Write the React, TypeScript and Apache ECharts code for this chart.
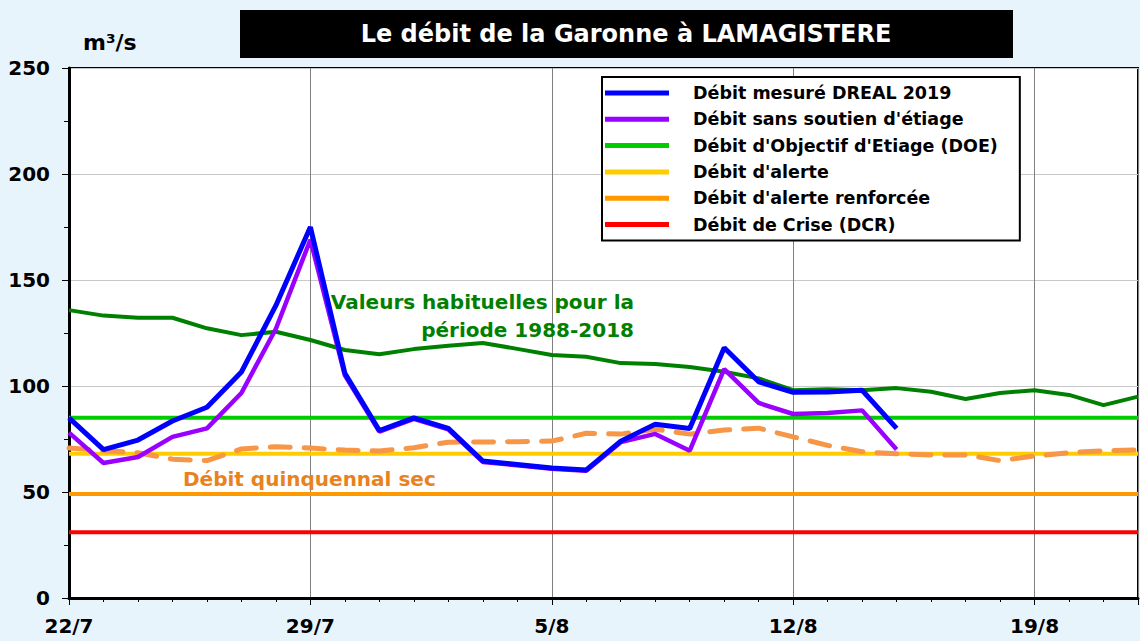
import React, { useEffect, useRef } from "react";
import * as echarts from "echarts";

// Days since 22/7 (0..31)
const xTickLabels = ["22/7", "29/7", "5/8", "12/8", "19/8"];
const yTicks = [0, 50, 100, 150, 200, 250];

const debitMesure = [85, 70, 74.5, 83.5, 90, 106.6, 138, 175, 106, 79, 85, 80, 64.6, 63, 61.3, 60.4, 74, 82, 80, 118, 102, 97, 97.2, 98, 80];
const sansSoutien = [78, 63.7, 66.5, 76, 80, 96.7, 127, 169, 105, 78.5, 84.5, 79.5, 64.2, 62.6, 61, 60, 73.5, 77.4, 69.5, 108, 92, 86.8, 87.3, 88.5, 70];
const habituelles = [135.8, 133.2, 132.2, 132.2, 127.2, 124, 125.6, 121.7, 117, 115, 117.4, 119, 120.3, 117.5, 114.6, 113.8, 110.8, 110.4, 109, 106.7, 103.6, 98, 98.5, 98, 99, 97.3, 93.9, 96.7, 98, 95.8, 91, 95];
const quinquennal = [70.7, 69.5, 68.5, 65.5, 64.8, 70.3, 71.4, 70.7, 69.8, 69.3, 70.9, 73.5, 73.6, 73.7, 74, 77.7, 77.3, 79.6, 77.3, 79.2, 80.1, 76, 72, 69, 68, 67.5, 67.5, 64.8, 67, 68.5, 69.5, 69.8];

const DOE = 85;
const ALERTE = 68;
const ALERTE_RENF = 49;
const CRISE = 31;
const X_MAX = 31;

const FONT = "DejaVu Sans";

const toPairs = (arr: number[]) => arr.map((v, i) => [i, v]);
const flat = (v: number) => [[0, v], [X_MAX, v]];

export default function App() {
  const ref = useRef<HTMLDivElement>(null);
  useEffect(() => {
    if (!ref.current) return;
    const chart = echarts.init(ref.current, null, { renderer: "svg" });
    const lineSeries = (name: string, data: any, color: string, width: number, z: number, extra: any = {}) => ({
      name,
      type: "line",
      data,
      color,
      showSymbol: false,
      symbol: "none",
      lineStyle: { color, width, ...(extra.lineStyle || {}) },
      z,
      silent: true,
    });
    chart.setOption({
      animation: false,
      backgroundColor: "#e8f4fc",
      grid: {
        left: 69,
        top: 68,
        right: 2,
        bottom: 43,
        show: true,
        backgroundColor: "#ffffff",
        borderColor: "#000",
        borderWidth: 2,
      },
      xAxis: {
        type: "value",
        min: 0,
        max: X_MAX,
        interval: 7,
        axisLine: { show: true, lineStyle: { color: "#000", width: 3 } },
        axisTick: { show: true, length: 7, lineStyle: { color: "#000", width: 1 } },
        minorTick: { show: true, splitNumber: 7, length: 4, lineStyle: { color: "#000", width: 1 } },
        splitLine: { show: true, lineStyle: { color: "#808080", width: 1 } },
        axisLabel: {
          showMaxLabel: false,
          margin: 18,
          color: "#000",
          fontFamily: FONT,
          fontWeight: "bold",
          fontSize: 20,
          formatter: (v: number) => xTickLabels[Math.round(v / 7)] ?? "",
        },
      },
      yAxis: {
        type: "value",
        min: yTicks[0],
        max: yTicks[yTicks.length - 1],
        interval: 50,
        axisLine: { show: true, lineStyle: { color: "#000", width: 3 } },
        axisTick: { show: true, length: 7, lineStyle: { color: "#000", width: 1 } },
        minorTick: { show: true, splitNumber: 2, length: 5, lineStyle: { color: "#000", width: 1 } },
        splitLine: { show: true, lineStyle: { color: "#c8c8c8", width: 1 } },
        axisLabel: {
          margin: 19,
          color: "#000",
          fontFamily: FONT,
          fontWeight: "bold",
          fontSize: 20,
        },
      },
      legend: {
        show: true,
        orient: "vertical",
        left: 602,
        top: 77,
        backgroundColor: "#fff",
        borderColor: "#000",
        borderWidth: 2,
        padding: [6, 22, 6, 3],
        itemWidth: 64,
        itemHeight: 5,
        itemGap: 6.3,
        icon: "rect",
        selectedMode: false,
        textStyle: {
          color: "#000",
          fontFamily: FONT,
          fontWeight: "bold",
          fontSize: 17.5,
          lineHeight: 20,
          padding: [0, 0, 0, 19],
        },
        data: [
          "Débit mesuré DREAL 2019",
          "Débit sans soutien d'étiage",
          "Débit d'Objectif d'Etiage (DOE)",
          "Débit d'alerte",
          "Débit d'alerte renforcée",
          "Débit de Crise (DCR)",
        ],
      },
      series: [
        lineSeries("Débit de Crise (DCR)", flat(CRISE), "#ff0000", 4, 2),
        lineSeries("Débit d'alerte renforcée", flat(ALERTE_RENF), "#ff9900", 4, 2),
        lineSeries("Débit d'alerte", flat(ALERTE), "#ffcc00", 4, 2),
        lineSeries("Débit d'Objectif d'Etiage (DOE)", flat(DOE), "#00cc00", 4, 2),
        lineSeries("Débit quinquennal sec", toPairs(quinquennal), "#f79646", 5, 3, {
          lineStyle: { type: [20, 14], cap: "round" },
        }),
        lineSeries("Valeurs habituelles", toPairs(habituelles), "#008000", 4, 4),
        lineSeries("Débit sans soutien d'étiage", toPairs(sansSoutien), "#9900ff", 4.5, 5),
        lineSeries("Débit mesuré DREAL 2019", toPairs(debitMesure), "#0000ff", 5, 6),
      ],
      graphic: [
        {
          type: "rect",
          shape: { x: 240, y: 10, width: 773, height: 48 },
          style: { fill: "#000" },
        },
        {
          type: "text",
          x: 626,
          y: 34,
          style: {
            text: "Le débit de la Garonne à LAMAGISTERE",
            fill: "#fff",
            font: `bold 24px "${FONT}"`,
            align: "center",
            verticalAlign: "middle",
          },
        },
        {
          type: "text",
          x: 83,
          y: 42,
          style: {
            text: "m³/s",
            fill: "#000",
            font: `bold 22px "${FONT}"`,
            align: "left",
            verticalAlign: "middle",
          },
        },
        {
          type: "text",
          x: 634,
          y: 302,
          z: 10,
          style: {
            text: "Valeurs habituelles pour la",
            fill: "#008000",
            font: `bold 20px "${FONT}"`,
            align: "right",
            verticalAlign: "middle",
          },
        },
        {
          type: "text",
          x: 634,
          y: 330,
          z: 10,
          style: {
            text: "période 1988-2018",
            fill: "#008000",
            font: `bold 20px "${FONT}"`,
            align: "right",
            verticalAlign: "middle",
          },
        },
        {
          type: "text",
          x: 183,
          y: 479,
          z: 10,
          style: {
            text: "Débit quinquennal sec",
            fill: "#e8821e",
            font: `bold 20px "${FONT}"`,
            align: "left",
            verticalAlign: "middle",
          },
        },
      ],
    });
    return () => chart.dispose();
  }, []);
  return (
    <div
      ref={ref}
      style={{ position: "fixed", left: 0, top: 0, width: 1140, height: 641 }}
    />
  );
}
